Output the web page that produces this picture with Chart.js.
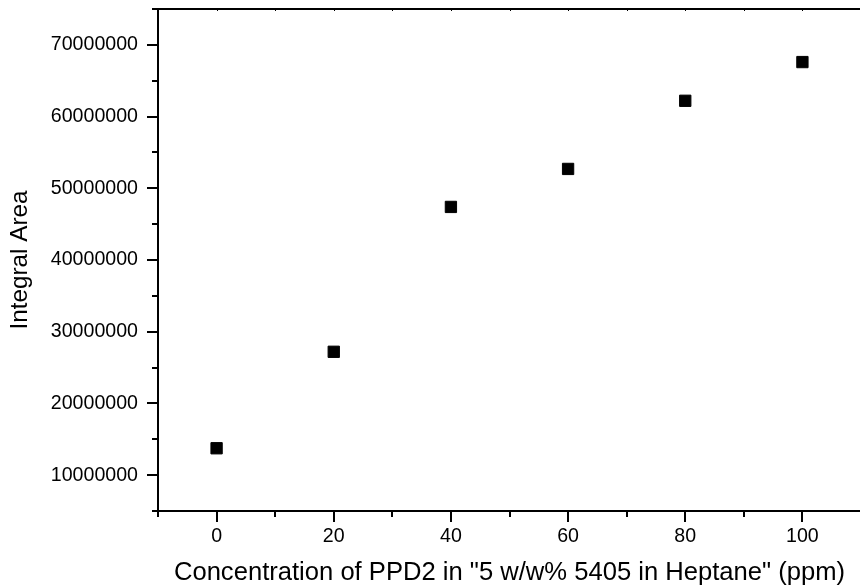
<!DOCTYPE html>
<html>
<head>
<meta charset="utf-8">
<script src="https://cdn.jsdelivr.net/npm/chart.js@4/dist/chart.umd.min.js"></script>
<style>
html,body{margin:0;padding:0;background:#fff;overflow:hidden;}
#wrap{position:relative;width:861px;height:586px;}
</style>
</head>
<body>
<div id="wrap"><canvas id="c"></canvas></div>
<script>
const concentrations = [0, 20, 40, 60, 80, 100];
const integralArea = [13750000, 27200000, 47400000, 52700000, 62200000, 67600000];
const xTitle = 'Concentration of PPD2 in "5 w/w% 5405 in Heptane" (ppm)';
const yTitle = 'Integral Area';

const FONT = '"Liberation Sans", Arial, sans-serif';

const minorTicks = {
  id: 'minorTicks',
  afterDraw(chart) {
    const ctx = chart.ctx;
    const x = chart.scales.x, y = chart.scales.y;
    const a = chart.chartArea;
    ctx.save();
    ctx.strokeStyle = '#000';
    ctx.lineWidth = 2;
    ctx.beginPath();
    for (let v = -10; v <= 110; v += 20) {
      const px = Math.round(x.getPixelForValue(v));
      ctx.moveTo(px, a.bottom); ctx.lineTo(px, a.bottom + 6);
    }
    for (let v = 5000000; v <= 75000000; v += 10000000) {
      const py = Math.round(y.getPixelForValue(v));
      ctx.moveTo(a.left, py); ctx.lineTo(a.left - 6, py);
    }
    ctx.stroke();
    ctx.lineWidth = 1;
    ctx.beginPath();
    for (let v = -10; v <= 110; v += 10) {
      const px = Math.round(x.getPixelForValue(v)) + 0.5;
      ctx.moveTo(px, a.top); ctx.lineTo(px, a.top + 2);
    }
    ctx.stroke();
    ctx.restore();
  }
};

function noPad(s) { s.paddingTop = 0; s.paddingBottom = 0; s.paddingLeft = 0; s.paddingRight = 0; }

new Chart(document.getElementById('c'), {
  type: 'scatter',
  data: {
    datasets: [{
      data: concentrations.map((c, i) => ({x: c, y: integralArea[i]})),
      pointStyle: 'rect',
      pointRadius: 8,
      pointHoverRadius: 8,
      backgroundColor: '#000',
      borderColor: '#000',
      borderWidth: 1
    }]
  },
  options: {
    responsive: true,
    maintainAspectRatio: false,
    animation: false,
    events: [],
    layout: {autoPadding: false, padding: {left: 0, right: 0, top: 0, bottom: 0}},
    plugins: {legend: {display: false}, tooltip: {enabled: false}},
    scales: {
      x: {
        type: 'linear',
        position: 'bottom',
        min: -10, max: 110,
        afterBuildTicks(s) {
          s.ticks = [];
          for (let v = 0; v <= 100; v += 20) s.ticks.push({value: v});
        },
        afterFit(s) { s.height = 75; noPad(s); },
        border: {display: true, color: '#000', width: 2},
        grid: {display: true, drawOnChartArea: false, drawTicks: true, tickLength: 11, color: '#000', lineWidth: 2},
        ticks: {color: '#000', font: {family: FONT, size: 19.6}, padding: 3, maxRotation: 0, autoSkip: false},
        title: {display: true, text: xTitle, color: '#000', font: {family: FONT, size: 25.6}, padding: {top: 4, bottom: -2}}
      },
      xTop: {
        type: 'linear',
        position: 'top',
        min: -10, max: 110,
        afterFit(s) { s.height = 9; noPad(s); },
        border: {display: true, color: '#000', width: 2},
        grid: {display: false},
        ticks: {display: false}
      },
      y: {
        type: 'linear',
        position: 'left',
        min: 5000000, max: 75000000,
        afterBuildTicks(s) {
          s.ticks = [];
          for (let v = 10000000; v <= 70000000; v += 10000000) s.ticks.push({value: v});
        },
        afterFit(s) { s.width = 158; noPad(s); },
        border: {display: true, color: '#000', width: 2},
        grid: {display: true, drawOnChartArea: false, drawTicks: true, tickLength: 11, color: '#000', lineWidth: 2},
        ticks: {color: '#000', font: {family: FONT, size: 19.6}, padding: 9, callback: v => String(v)},
        title: {display: true, text: yTitle, color: '#000', font: {family: FONT, size: 24.3}, padding: {top: 6, bottom: 0}}
      }
    }
  },
  plugins: [minorTicks]
});
</script>
</body>
</html>
